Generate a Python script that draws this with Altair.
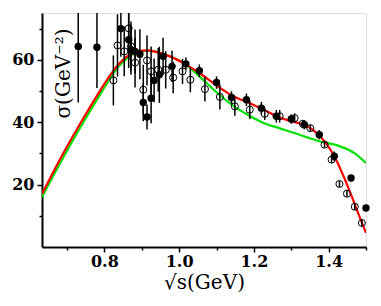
import altair as alt
import pandas as pd

# filled data points: sqrt(s), sigma, error
filled_x = [0.73, 0.78, 0.844, 0.865, 0.871, 0.882, 0.895, 0.904, 0.914, 0.925, 0.933, 0.947,
            0.957, 0.981, 1.018, 1.054, 1.10, 1.14, 1.18, 1.22, 1.26, 1.30, 1.335, 1.375,
            1.415, 1.46, 1.50]
filled_y = [64.3, 64.0, 70.0, 66.4, 63.2, 62.7, 61.8, 46.3, 41.7, 47.7, 53.4, 55.2,
            61.1, 57.9, 58.7, 56.5, 52.7, 47.9, 47.2, 44.5, 41.9, 41.0, 39.2, 36.0,
            29.1, 22.1, 12.5]
filled_e = [18, 13, 9, 9, 8, 7, 8, 6, 4, 8, 7, 9,
            6, 5, 2, 2, 2, 2, 2, 2, 2, 1.5, 1.5, 1.5,
            1.5, 1, 1]

# open data points
open_x = [0.824, 0.835, 0.853, 0.865, 0.871, 0.882, 0.904, 0.914, 0.925, 0.944, 0.964, 0.984,
          1.009, 1.03, 1.069, 1.109, 1.149, 1.189, 1.229, 1.269, 1.309, 1.331, 1.351, 1.389,
          1.408, 1.429, 1.449, 1.47, 1.489]
open_y = [53.4, 64.6, 62.7, 70.1, 64.3, 59.1, 50.4, 59.8, 56.3, 56.8, 56.8, 54.3,
          56.3, 53.6, 50.6, 48.1, 45.1, 44.0, 42.7, 41.9, 41.3, 39.5, 38.1, 32.8,
          28.0, 20.2, 17.1, 12.9, 7.7]
open_e = [8, 10, 8, 10, 8, 8, 8, 8, 8, 7, 6, 5,
          4, 4, 4, 4, 3, 3, 2, 2, 1.5, 1, 1, 1,
          1, 1, 1, 1, 1]

# fit curves
red_x = [0.633, 0.682, 0.735, 0.789, 0.815, 0.838, 0.86, 0.878, 0.895, 0.915, 0.935, 0.975,
         1.015, 1.055, 1.10, 1.144, 1.189, 1.233, 1.268, 1.295, 1.322, 1.357, 1.393, 1.42,
         1.442, 1.46, 1.482, 1.50]
red_y = [17.0, 28.3, 39.5, 50.2, 55.0, 58.6, 61.0, 62.3, 62.9, 63.0, 62.6, 61.1,
         58.7, 55.7, 51.8, 48.4, 46.1, 43.6, 41.5, 40.5, 39.6, 37.6, 33.3, 28.0,
         22.1, 16.8, 9.9, 4.5]
green_x = [0.633, 0.682, 0.735, 0.789, 0.815, 0.838, 0.86, 0.88, 0.90, 0.92, 0.935, 0.975,
           1.015, 1.055, 1.10, 1.144, 1.189, 1.233, 1.268, 1.295, 1.322, 1.375, 1.429, 1.469,
           1.50]
green_y = [16.0, 27.0, 38.2, 49.0, 54.0, 57.9, 60.4, 62.0, 62.8, 62.9, 62.7, 61.1,
           58.7, 54.6, 49.6, 45.3, 42.0, 39.4, 38.1, 37.0, 36.0, 33.9, 32.3, 30.1,
           26.9]

x_ticks = [0.7, 0.8, 0.9, 1.0, 1.1, 1.2, 1.3, 1.4, 1.5]
y_ticks = [10, 20, 30, 40, 50, 60, 70]

FONT = "DejaVu Serif"

df_f = pd.DataFrame({"x": filled_x, "y": filled_y, "e": filled_e})
df_f["lo"] = df_f["y"] - df_f["e"]
df_f["hi"] = df_f["y"] + df_f["e"]
df_o = pd.DataFrame({"x": open_x, "y": open_y, "e": open_e})
df_o["lo"] = df_o["y"] - df_o["e"]
df_o["hi"] = df_o["y"] + df_o["e"]
df_r = pd.DataFrame({"x": red_x, "y": red_y})
df_g = pd.DataFrame({"x": green_x, "y": green_y})

xs = alt.Scale(domain=[0.633, 1.5], nice=False, zero=False)
ys = alt.Scale(domain=[0, 75], nice=False, zero=False)

x_axis = alt.Axis(
    values=x_ticks, grid=False, domainColor="black", domainWidth=2,
    tickColor="black", tickWidth=1.5,
    tickSize={"condition": {"test": "round(datum.value*10)%2==0", "value": 5}, "value": 3},
    labelExpr="round(datum.value*10)%2==0 ? format(datum.value, '.1f') : ''",
    labelFont=FONT, labelFontSize=16, labelFontWeight="bold", labelColor="black",
    labelPadding=1,
    title="√s(GeV)", titleFont=FONT, titleFontSize=20, titleFontWeight="normal",
    titleColor="black", titleY=41, titleBaseline="alphabetic",
)
y_axis = alt.Axis(
    values=y_ticks, grid=False, domainColor="black", domainWidth=2,
    tickColor="black", tickWidth=1.5,
    tickSize={"condition": {"test": "round(datum.value)%20==0", "value": 5}, "value": 3},
    format="d",
    labelColor={"condition": {"test": "round(datum.value)%20==0", "value": "black"}, "value": "transparent"},
    labelFont=FONT, labelFontSize=16, labelFontWeight="bold",
    labelPadding=3, labelOverlap=False,
    title="σ(GeV⁻²)", titleFont=FONT, titleFontSize=20, titleFontWeight="normal",
    titleColor="black", titleX=21, titleY=60, titleAlign="center",
    titleBaseline="middle", titleAngle=270,
)

X = alt.X("x:Q", scale=xs, axis=x_axis)

green = alt.Chart(df_g).mark_line(color="#00e000", strokeWidth=2.2, interpolate="monotone", clip=True).encode(
    x=X, y=alt.Y("y:Q", scale=ys, axis=y_axis))
red = alt.Chart(df_r).mark_line(color="#ff0000", strokeWidth=2.2, interpolate="monotone", clip=True).encode(
    x=X, y=alt.Y("y:Q", scale=ys, axis=y_axis))

err_f = alt.Chart(df_f).mark_rule(color="black", strokeWidth=1.5, clip=True).encode(
    x=X, y=alt.Y("lo:Q", scale=ys, axis=y_axis), y2="hi:Q")
err_o = alt.Chart(df_o).mark_rule(color="black", strokeWidth=1.5, clip=True).encode(
    x=X, y=alt.Y("lo:Q", scale=ys, axis=y_axis), y2="hi:Q")

pts_o = alt.Chart(df_o).mark_point(shape="circle", filled=False, color="black", size=50, strokeWidth=1, opacity=1).encode(
    x=X, y=alt.Y("y:Q", scale=ys, axis=y_axis))
pts_f = alt.Chart(df_f).mark_point(shape="circle", filled=True, color="black", size=55, opacity=1).encode(
    x=X, y=alt.Y("y:Q", scale=ys, axis=y_axis))

chart = alt.layer(green, red, err_o, err_f, pts_o, pts_f).properties(
    width=324, height=234,
    autosize=alt.AutoSizeParams(type="none"),
    padding={"left": 34, "top": 5, "right": 7, "bottom": 50},
).configure_view(stroke="#999999", strokeWidth=1).configure(background="white")

chart.save("out.html", embed_options={"renderer": "svg", "actions": False})
